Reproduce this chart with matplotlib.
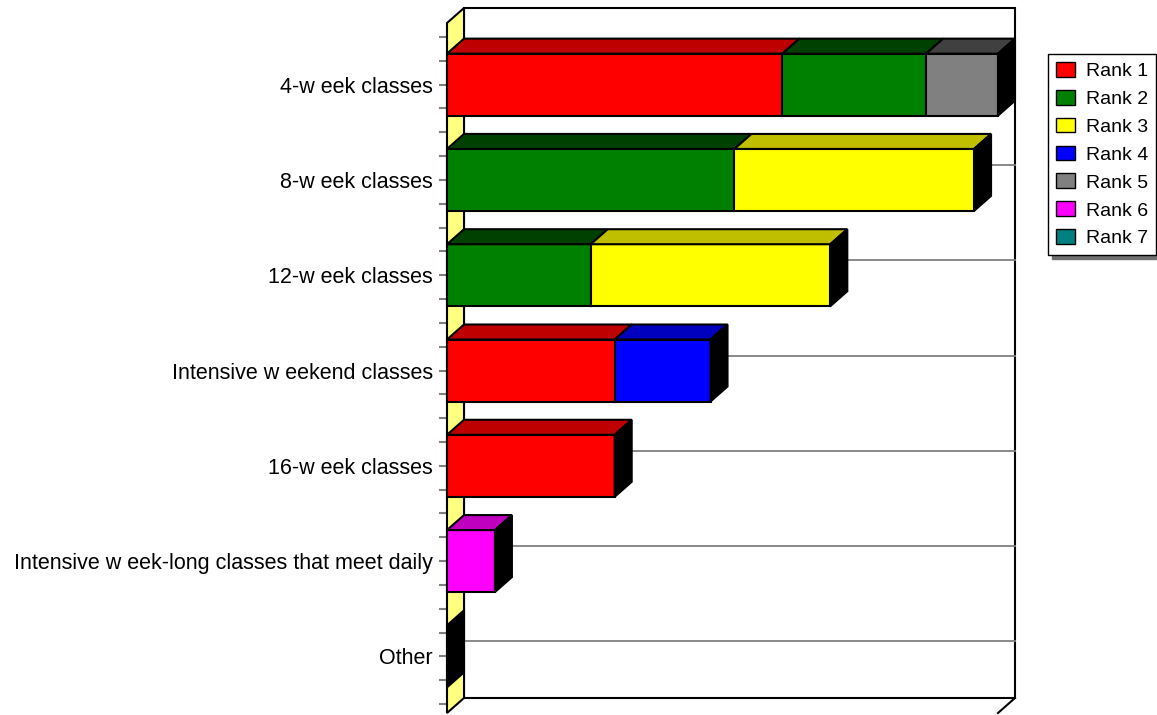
import matplotlib
matplotlib.use("Agg")
import matplotlib.pyplot as plt
from matplotlib.patches import Polygon, Patch
import numpy as np

plt.rcParams['font.family'] = ['Liberation Sans', 'DejaVu Sans']

categories = ["4-w eek classes", "8-w eek classes", "12-w eek classes",
              "Intensive w eekend classes", "16-w eek classes",
              "Intensive w eek-long classes that meet daily", "Other"]
rank_labels = ["Rank 1", "Rank 2", "Rank 3", "Rank 4", "Rank 5", "Rank 6", "Rank 7"]
rank1 = [14, 0, 0, 7, 7, 0, 0]
rank2 = [6, 12, 6, 0, 0, 0, 0]
rank3 = [0, 10, 10, 0, 0, 0, 0]
rank4 = [0, 0, 0, 4, 0, 0, 0]
rank5 = [3, 0, 0, 0, 0, 0, 0]
rank6 = [0, 0, 0, 0, 0, 2, 0]
rank7 = [0, 0, 0, 0, 0, 0, 0]
series = [rank1, rank2, rank3, rank4, rank5, rank6, rank7]

colors = ["#FF0000", "#008000", "#FFFF00", "#0000FF", "#808080", "#FF00FF", "#008080"]

def darker(hexcol):
    # top faces are each channel minus 0x40
    c = [int(hexcol[i:i + 2], 16) for i in (1, 3, 5)]
    return "#%02X%02X%02X" % tuple(max(v - 64, 0) for v in c)

top_colors = [darker(c) for c in colors]

W, H = 1157, 715
fig = plt.figure(figsize=(W / 100, H / 100), dpi=100)
ax = fig.add_axes([447 / W, 11 / H, 551 / W, 667 / H])
ax.patch.set_visible(False)

n = len(categories)
xmax = 23
band = 667 / n                # pixels per category

dx = xmax * 17 / 551          # depth offset, value units
dy = 15 / band                # depth offset, category units
bar_h = 62 / band
wall_top = -0.5 - 14 / band
wall_bot = n - 0.5 + 9 / band
edge = 1.5

y = np.arange(n)
for s in ax.spines.values():
    s.set_visible(False)
ax.set_xticks([])
ax.set_yticks(y)
ax.set_yticklabels(categories, fontsize=15.5)
minor = [v for v in np.arange(-0.5, n - 0.4, 0.25) if abs(v - round(v)) > 1e-6]
ax.set_yticks(minor, minor=True)
ax.tick_params(axis="y", which="both", direction="out", length=6, width=1.5,
               color="#808080", pad=4)

# back wall, side wall and floor edge
ax.add_patch(Polygon([(dx, wall_top - dy), (xmax + dx, wall_top - dy),
                      (xmax + dx, wall_bot - dy), (dx, wall_bot - dy)],
                     closed=True, facecolor="white", edgecolor="black",
                     linewidth=edge, zorder=0, clip_on=False))
for i in range(n):
    ax.plot([dx, xmax + dx], [i - dy, i - dy], color="#808080", linewidth=1.3,
            zorder=1, clip_on=False)
ax.add_patch(Polygon([(0, wall_top), (dx, wall_top - dy), (dx, wall_bot - dy), (0, wall_bot)],
                     closed=True, facecolor="#FFFF80", edgecolor="black",
                     linewidth=edge, zorder=2, clip_on=False))
ax.plot([xmax, xmax + dx], [wall_bot, wall_bot - dy], color="black", linewidth=edge,
        zorder=2, clip_on=False)

# stacked 3d bars
left = np.zeros(n)
for vals, col, tcol in zip(series, colors, top_colors):
    vals = np.array(vals, dtype=float)
    m = vals > 0
    ax.barh(y[m], vals[m], left=left[m], height=bar_h, color=col,
            edgecolor="black", linewidth=edge, zorder=3, clip_on=False)
    for i in np.where(m)[0]:
        x0, x1 = left[i], left[i] + vals[i]
        yt = i - bar_h / 2
        ax.add_patch(Polygon([(x0, yt), (x1, yt), (x1 + dx, yt - dy), (x0 + dx, yt - dy)],
                             closed=True, facecolor=tcol, edgecolor="black",
                             linewidth=edge, zorder=3, clip_on=False))
    left += vals

# right-hand side faces, one per stack
for i in range(n):
    x1 = left[i]
    yt, yb = i - bar_h / 2, i + bar_h / 2
    ax.add_patch(Polygon([(x1, yt), (x1 + dx, yt - dy), (x1 + dx, yb - dy), (x1, yb)],
                         closed=True, facecolor="black", edgecolor="black",
                         linewidth=edge, zorder=3, clip_on=False))

ax.set_xlim(0, xmax)
ax.set_ylim(n - 0.5, -0.5)

handles = [Patch(facecolor=c, edgecolor="black", linewidth=1.0) for c in colors]
leg = fig.legend(handles, rank_labels, loc="upper left",
                 bbox_to_anchor=(1048 / W, 1 - 54 / H), bbox_transform=fig.transFigure,
                 fontsize=14, frameon=True, fancybox=False, framealpha=1,
                 shadow={"ox": 3, "oy": -3, "color": "#707070", "alpha": 1},
                 edgecolor="black", borderaxespad=0, borderpad=0.4,
                 handlelength=1.0, handleheight=0.8, handletextpad=0.55,
                 labelspacing=0.5)
leg.get_frame().set_linewidth(1.0)

fig.savefig("out.png", dpi=100)
